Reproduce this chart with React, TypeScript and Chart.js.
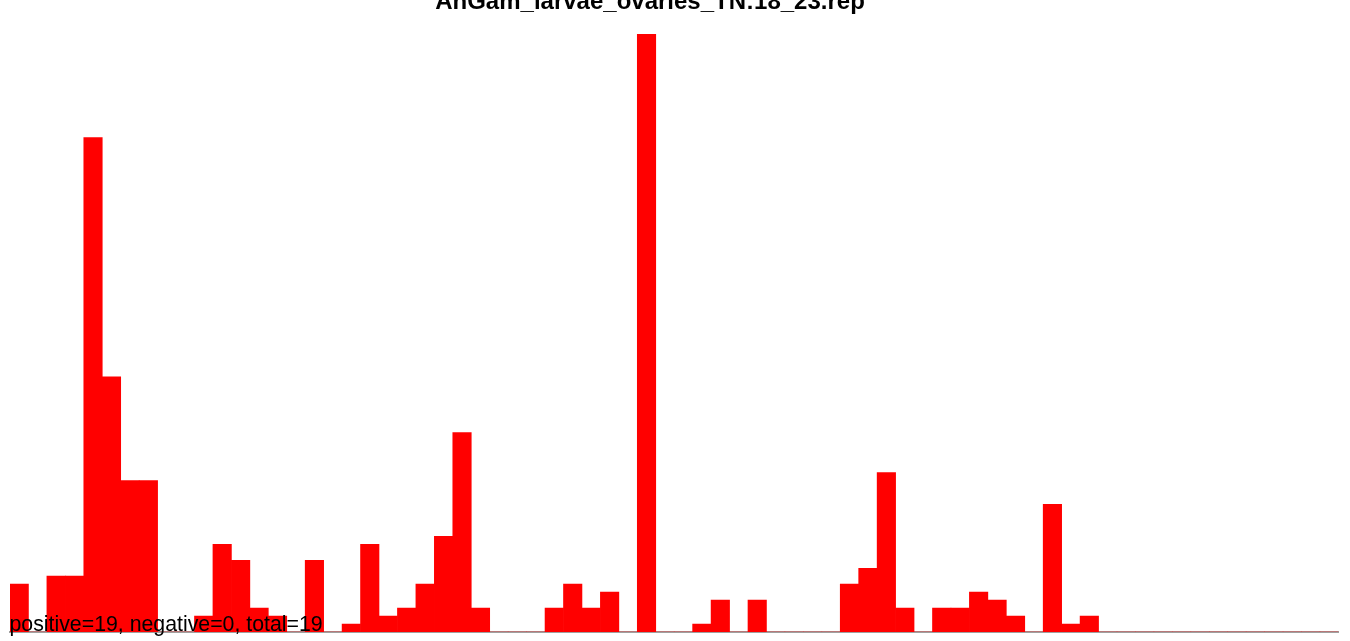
import React, { useEffect, useRef } from "react";
import { Chart, registerables } from "chart.js";

Chart.register(...registerables);

const TITLE = "AnGam_larvae_ovaries_TN:18_23.rep";
const SUMMARY = "positive=19, negative=0, total=19";

const bins: string[] = Array.from({ length: 72 }, (_, i) => String(i + 1));

const counts: number[] = [
  6, 0, 7, 7, 62, 32, 19, 19, 0, 0,
  2, 11, 9, 3, 2, 0, 9, 0, 1, 11,
  2, 3, 6, 12, 25, 3, 0, 0, 0, 3,
  6, 3, 5, 0, 75, 0, 0, 1, 4, 0,
  4, 0, 0, 0, 0, 6, 8, 20, 3, 0,
  3, 3, 5, 4, 2, 0, 16, 1, 2, 0,
  0, 0, 0, 0, 0, 0, 0, 0, 0, 0,
  0, 0,
];

const yMax = 75;

const textPlugin = {
  id: "texts",
  afterDraw(chart: any) {
    const ctx = chart.ctx;
    ctx.save();
    ctx.fillStyle = "#000000";
    ctx.textBaseline = "alphabetic";
    ctx.font = "bold 24px 'Liberation Sans', Arial, sans-serif";
    ctx.textAlign = "center";
    ctx.fillText(TITLE, 650, 9);
    ctx.font = "21.3px 'Liberation Sans', Arial, sans-serif";
    ctx.textAlign = "left";
    ctx.fillText(SUMMARY, 9.5, 631);
    ctx.restore();
  },
};

export default function App() {
  const ref = useRef<HTMLCanvasElement | null>(null);
  useEffect(() => {
    if (!ref.current) return;
    const chart = new Chart(ref.current, {
      type: "bar",
      data: {
        labels: bins,
        datasets: [
          {
            data: counts,
            backgroundColor: "#ff0000",
            borderWidth: 0,
            barPercentage: 1,
            categoryPercentage: 1,
          },
        ],
      },
      options: {
        responsive: false,
        animation: false,
        layout: { padding: { left: 10, right: 11.6, top: 34, bottom: 9 } },
        plugins: {
          legend: { display: false },
          title: { display: false },
          tooltip: { enabled: false },
        },
        scales: {
          x: {
            display: true,
            z: 1,
            ticks: { display: false },
            grid: { display: false, drawTicks: false },
            border: { display: true, color: "#a0a0a0", width: 2 },
          },
          y: {
            display: false,
            min: 0,
            max: yMax,
          },
        },
      },
      plugins: [textPlugin],
    });
    return () => chart.destroy();
  }, []);
  return (
    <div style={{ position: "absolute", left: 0, top: 0, width: 1350, height: 641, background: "#ffffff" }}>
      <canvas ref={ref} width={1350} height={641} style={{ display: "block", width: 1350, height: 641 }} />
    </div>
  );
}
